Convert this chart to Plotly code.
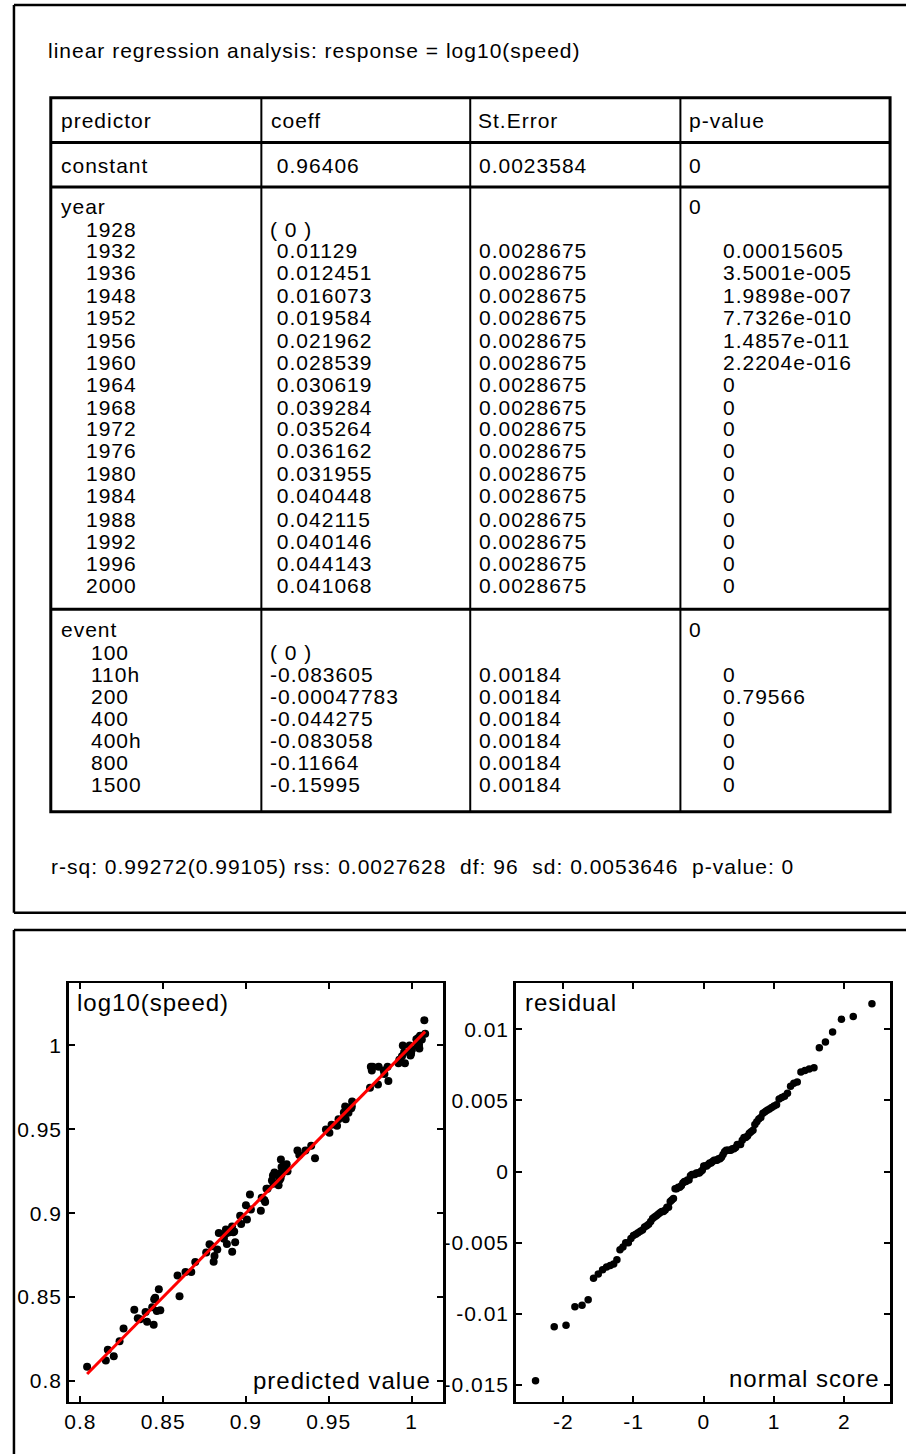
import re
import plotly.graph_objects as go

W, H = 906, 1454
FONT = "Liberation Sans, Arial, sans-serif"

# ------------------------------------------------------------------ data
title_text = "linear regression analysis: response = log10(speed)"
headers = ["predictor", "coeff", "St.Error", "p-value"]

const_coef = 0.96406
const_se = 0.0023584
const_p = 0.0

years = ["1928", "1932", "1936", "1948", "1952", "1956", "1960", "1964", "1968",
         "1972", "1976", "1980", "1984", "1988", "1992", "1996", "2000"]
year_coef = [0.0, 0.01129, 0.012451, 0.016073, 0.019584, 0.021962, 0.028539, 0.030619,
             0.039284, 0.035264, 0.036162, 0.031955, 0.040448, 0.042115, 0.040146,
             0.044143, 0.041068]
year_se = [None, 0.0028675, 0.0028675, 0.0028675, 0.0028675, 0.0028675, 0.0028675,
           0.0028675, 0.0028675, 0.0028675, 0.0028675, 0.0028675, 0.0028675,
           0.0028675, 0.0028675, 0.0028675, 0.0028675]
year_p = [None, 0.00015605, 3.5001e-05, 1.9898e-07, 7.7326e-10, 1.4857e-11, 2.2204e-16,
          0, 0, 0, 0, 0, 0, 0, 0, 0, 0]
year_term_p = 0.0

events = ["100", "110h", "200", "400", "400h", "800", "1500"]
event_coef = [0.0, -0.083605, -0.00047783, -0.044275, -0.083058, -0.11664, -0.15995]
event_se = [None, 0.00184, 0.00184, 0.00184, 0.00184, 0.00184, 0.00184]
event_p = [None, 0, 0.79566, 0, 0, 0, 0]
event_term_p = 0.0

r_sq = 0.99272
r_sq_adj = 0.99105
rss = 0.0027628
dfree = 96
sd = 0.0053646
model_p = 0

# predicted value / log10(speed) per event, one entry per year (1928 ... 2000)
pred_100 = [0.9641, 0.9754, 0.9765, 0.9801, 0.9836, 0.9860, 0.9926, 0.9947, 1.0033,
            0.9993, 1.0002, 0.9960, 1.0045, 1.0062, 1.0042, 1.0082, 1.0051]
obs_100 = [0.9666, 0.9872, 0.9872, 0.9872, 0.9830, 0.9788, 0.9914, 1.0000, 1.0022,
           0.9940, 0.9974, 0.9893, 1.0004, 1.0035, 1.0017, 1.0070, 1.0057]
pred_110h = [0.8805, 0.8917, 0.8929, 0.8965, 0.9000, 0.9024, 0.9090, 0.9111, 0.9197,
             0.9157, 0.9166, 0.9124, 0.9209, 0.9226, 0.9206, 0.9246, 0.9215]
obs_110h = [0.8711, 0.8770, 0.8891, 0.8984, 0.9047, 0.9111, 0.9015, 0.9079, 0.9166,
            0.9195, 0.9175, 0.9146, 0.9208, 0.9281, 0.9235, 0.9291, 0.9275]
pred_200 = [0.9636, 0.9749, 0.9760, 0.9797, 0.9832, 0.9855, 0.9921, 0.9942, 1.0029,
            0.9988, 0.9997, 0.9955, 1.0040, 1.0057, 1.0037, 1.0077, 1.0047]
obs_200 = [0.9626, 0.9747, 0.9851, 0.9767, 0.9851, 0.9872, 0.9893, 0.9935, 1.0037,
           1.0000, 0.9950, 0.9959, 1.0044, 1.0055, 0.9998, 1.0150, 0.9981]
pred_400 = [0.9198, 0.9311, 0.9322, 0.9359, 0.9394, 0.9417, 0.9483, 0.9504, 0.9591,
            0.9550, 0.9559, 0.9517, 0.9602, 0.9619, 0.9599, 0.9639, 0.9609]
obs_400 = [0.9226, 0.9374, 0.9346, 0.9374, 0.9402, 0.9327, 0.9498, 0.9479, 0.9600,
           0.9521, 0.9560, 0.9527, 0.9560, 0.9599, 0.9636, 0.9637, 0.9602]
pred_400h = [0.8810, 0.8923, 0.8935, 0.8971, 0.9006, 0.9030, 0.9095, 0.9116, 0.9203,
             0.9163, 0.9172, 0.9130, 0.9215, 0.9231, 0.9211, 0.9251, 0.9221]
obs_400h = [0.8745, 0.8886, 0.8827, 0.8936, 0.8962, 0.9022, 0.9092, 0.9066, 0.9197,
            0.9225, 0.9242, 0.9145, 0.9231, 0.9282, 0.9320, 0.9250, 0.9254]
pred_800 = [0.8474, 0.8587, 0.8599, 0.8635, 0.8670, 0.8694, 0.8760, 0.8780, 0.8867,
            0.8827, 0.8836, 0.8794, 0.8879, 0.8895, 0.8876, 0.8916, 0.8885]
obs_800 = [0.8546, 0.8629, 0.8504, 0.8649, 0.8649, 0.8709, 0.8766, 0.8815, 0.8848,
           0.8784, 0.8882, 0.8802, 0.8903, 0.8884, 0.8875, 0.8920, 0.8816]
pred_1500 = [0.8041, 0.8154, 0.8166, 0.8202, 0.8237, 0.8261, 0.8326, 0.8347, 0.8434,
             0.8394, 0.8403, 0.8361, 0.8446, 0.8462, 0.8443, 0.8483, 0.8452]
obs_1500 = [0.8084, 0.8121, 0.8185, 0.8147, 0.8237, 0.8313, 0.8424, 0.8374, 0.8439,
            0.8410, 0.8353, 0.8368, 0.8487, 0.8417, 0.8334, 0.8421, 0.8496]

# normal scores for the 119 ordered residuals
normal_scores = [
    -2.394, -2.128, -1.960, -1.834, -1.732, -1.645, -1.569, -1.501, -1.440, -1.383,
    -1.331, -1.282, -1.236, -1.192, -1.150, -1.111, -1.073, -1.036, -1.001, -0.967,
    -0.935, -0.903, -0.872, -0.842, -0.812, -0.784, -0.755, -0.728, -0.701, -0.674,
    -0.649, -0.623, -0.598, -0.573, -0.548, -0.524, -0.501, -0.477, -0.454, -0.431,
    -0.408, -0.385, -0.363, -0.341, -0.319, -0.297, -0.275, -0.253, -0.232, -0.210,
    -0.189, -0.168, -0.147, -0.126, -0.105, -0.084, -0.063, -0.042, -0.021, 0.0,
    0.021, 0.042, 0.063, 0.084, 0.105, 0.126, 0.147, 0.168, 0.189, 0.210,
    0.232, 0.253, 0.275, 0.297, 0.319, 0.341, 0.363, 0.385, 0.408, 0.431,
    0.454, 0.477, 0.501, 0.524, 0.548, 0.573, 0.598, 0.623, 0.649, 0.674,
    0.701, 0.728, 0.755, 0.784, 0.812, 0.842, 0.872, 0.903, 0.935, 0.967,
    1.001, 1.036, 1.073, 1.111, 1.150, 1.192, 1.236, 1.282, 1.331, 1.383,
    1.440, 1.501, 1.569, 1.645, 1.732, 1.834, 1.960, 2.128, 2.394]

x1_ticks = [0.8, 0.85, 0.9, 0.95, 1.0]
x1_ticktext = ["0.8", "0.85", "0.9", "0.95", "1"]
y1_ticks = [0.8, 0.85, 0.9, 0.95, 1.0]
y1_ticktext = ["0.8", "0.85", "0.9", "0.95", "1"]
x2_ticks = [-2, -1, 0, 1, 2]
x2_ticktext = ["-2", "-1", "0", "1", "2"]
y2_ticks = [-0.015, -0.01, -0.005, 0, 0.005, 0.01]
y2_ticktext = ["-0.015", "-0.01", "-0.005", "0", "0.005", "0.01"]

# ------------------------------------------------------------------ helpers
def PX(x):
    return x / W


def PY(y):
    return 1 - y / H


def ls(s):
    return '<span style="letter-spacing:1px">' + s + '</span>'


def fmt(v):
    if v is None:
        return ""
    if v == 0:
        return "0"
    s = "%.5g" % v
    s = re.sub(r"e([+-])(\d+)", lambda m: "e%s%03d" % (m.group(1), int(m.group(2))), s)
    return s


def fmt_coef(v, ref=False):
    if ref:
        return "( 0 )"
    s = fmt(v)
    return ("\u00a0" + s) if v > 0 else s


annotations = []
shapes = []


def text(x, y, s, size=21, xanchor="left"):
    if s == "":
        return
    annotations.append(dict(
        x=PX(x), y=PY(y), xref="paper", yref="paper", text=ls(s), showarrow=False,
        xanchor=xanchor, yanchor="middle", borderpad=0,
        font=dict(family=FONT, size=size, color="black")))


def hline(x0, x1, y, w):
    shapes.append(dict(type="line", xref="paper", yref="paper", x0=PX(x0), x1=PX(x1),
                       y0=PY(y), y1=PY(y), line=dict(color="black", width=w)))


def vline(x, y0, y1, w):
    shapes.append(dict(type="line", xref="paper", yref="paper", x0=PX(x), x1=PX(x),
                       y0=PY(y0), y1=PY(y1), line=dict(color="black", width=w)))


def rect(x0, y0, x1, y1, w):
    shapes.append(dict(type="rect", xref="paper", yref="paper", x0=PX(x0), x1=PX(x1),
                       y0=PY(y0), y1=PY(y1), line=dict(color="black", width=w),
                       fillcolor="rgba(0,0,0,0)"))


# ------------------------------------------------------------------ panels (run off the right / bottom edge)
hline(10, W + 5, 5, 2.5)
hline(10, W + 5, 912.7, 2.5)
vline(10, 5, 912.7, 2.5)
hline(10, W + 5, 930, 2.5)
vline(10, 930, H + 5, 2.5)

# ------------------------------------------------------------------ table
T_L, T_R, T_T, T_B = 47, 890, 97.7, 811.7
col_x = [258.5, 468.3, 679.4]
rect(T_L, T_T, T_R, T_B, 3)
for cx in col_x:
    vline(cx, T_T, T_B, 2)
for hy in [142.5, 187, 609.3]:
    hline(T_L, T_R, hy, 3)

text(43.4, 50.7, title_text)

c1, c2, c3, c4 = 56.1, 266, 476.5, 686.9
c1_year, c1_event, c4_list = 81, 86.7, 721.6

header_y = 120.5
for cx, h in zip([c1, c2 + 1.5, c3 - 1.2, c4], headers):
    text(cx, header_y, h)

const_y = 165.5
text(c1, const_y, "constant")
text(c2, const_y, fmt_coef(const_coef))
text(c3, const_y, fmt(const_se))
text(c4, const_y, fmt(const_p))

year_head_y = 206
text(c1, year_head_y, "year")
text(c4, year_head_y, fmt(year_term_p))
year_rows_y = [229.3, 250.5, 272.7, 295.5, 317.3, 340.2, 362.7, 384.5, 407.0, 428.5,
               450.7, 473.5, 495.5, 519.0, 541.2, 563.0, 585.5]
for i, yy in enumerate(year_rows_y):
    text(c1_year, yy, years[i])
    text(c2, yy, fmt_coef(year_coef[i], ref=(i == 0)))
    text(c3, yy, fmt(year_se[i]))
    text(c4_list, yy, fmt(year_p[i]))

event_head_y = 630
text(c1, event_head_y, "event")
text(c4, event_head_y, fmt(event_term_p))
event_rows_y = [652.7, 674.5, 696.5, 718.5, 740.5, 762.5, 784.5]
for i, yy in enumerate(event_rows_y):
    text(c1_event, yy, events[i])
    text(c2, yy, fmt_coef(event_coef[i], ref=(i == 0)))
    text(c3, yy, fmt(event_se[i]))
    text(c4_list, yy, fmt(event_p[i]))

NB = "\u00a0"
stats_line = ("r-sq: %s(%s) rss: %s" + NB + " df: %s" + NB + " sd: %s" + NB + " p-value: %s") % (
    fmt(r_sq), fmt(r_sq_adj), fmt(rss), dfree, fmt(sd), fmt(model_p))
text(46.3, 866, stats_line)

# ------------------------------------------------------------------ plots
predicted = pred_100 + pred_110h + pred_200 + pred_400 + pred_400h + pred_800 + pred_1500
observed = obs_100 + obs_110h + obs_200 + obs_400 + obs_400h + obs_800 + obs_1500
residuals = sorted(o - p for o, p in zip(observed, predicted))

fig = go.Figure()
fig.add_trace(go.Scatter(x=predicted, y=observed, mode="markers",
                         marker=dict(color="black", size=8, line=dict(width=0)),
                         xaxis="x", yaxis="y", showlegend=False, hoverinfo="skip"))
fig.add_trace(go.Scatter(x=[min(predicted), max(predicted)], y=[min(predicted), max(predicted)],
                         mode="lines", line=dict(color="#ff0000", width=3),
                         xaxis="x", yaxis="y", showlegend=False, hoverinfo="skip"))
fig.add_trace(go.Scatter(x=normal_scores, y=residuals, mode="markers",
                         marker=dict(color="black", size=7.5, line=dict(width=0)),
                         xaxis="x2", yaxis="y2", showlegend=False, hoverinfo="skip"))

P_T, P_B = 983, 1401.7
L1, R1 = 65, 441
L2, R2 = 514, 890

axis_common = dict(showgrid=False, zeroline=False, showline=True, linecolor="black",
                   linewidth=2.5, mirror="ticks", ticks="inside", ticklen=6, tickwidth=2,
                   tickcolor="black", tickmode="array",
                   tickfont=dict(family=FONT, size=21, color="black"))

fig.update_layout(
    width=W, height=H, margin=dict(l=0, r=0, t=0, b=0, pad=0),
    paper_bgcolor="white", plot_bgcolor="white",
    font=dict(family=FONT, color="black"),
    showlegend=False,
    xaxis=dict(axis_common, domain=[PX(L1), PX(R1)], range=[0.793, 1.019], anchor="y",
               tickvals=x1_ticks, ticktext=[ls(t) for t in x1_ticktext]),
    yaxis=dict(axis_common, domain=[PY(P_B), PY(P_T)], range=[0.7876, 1.0372], anchor="x",
               tickvals=y1_ticks, ticktext=[ls(t) for t in y1_ticktext]),
    xaxis2=dict(axis_common, domain=[PX(L2), PX(R2)], range=[-2.676, 2.652], anchor="y2",
                tickvals=x2_ticks, ticktext=[ls(t) for t in x2_ticktext]),
    yaxis2=dict(axis_common, domain=[PY(P_B), PY(P_T)], range=[-0.01617, 0.01325], anchor="x2",
                tickvals=y2_ticks, ticktext=[ls(t) for t in y2_ticktext]),
)

text(72.7, 1002, "log10(speed)", size=24)
text(430, 1380, "predicted value", size=24, xanchor="right")
text(522.3, 1002, "residual", size=24)
text(880.7, 1378, "normal score", size=24, xanchor="right")

fig.update_layout(annotations=annotations, shapes=shapes)

fig.write_html("out.html", config={"displayModeBar": False, "staticPlot": True},
               post_script="document.body.style.margin='0px';")
